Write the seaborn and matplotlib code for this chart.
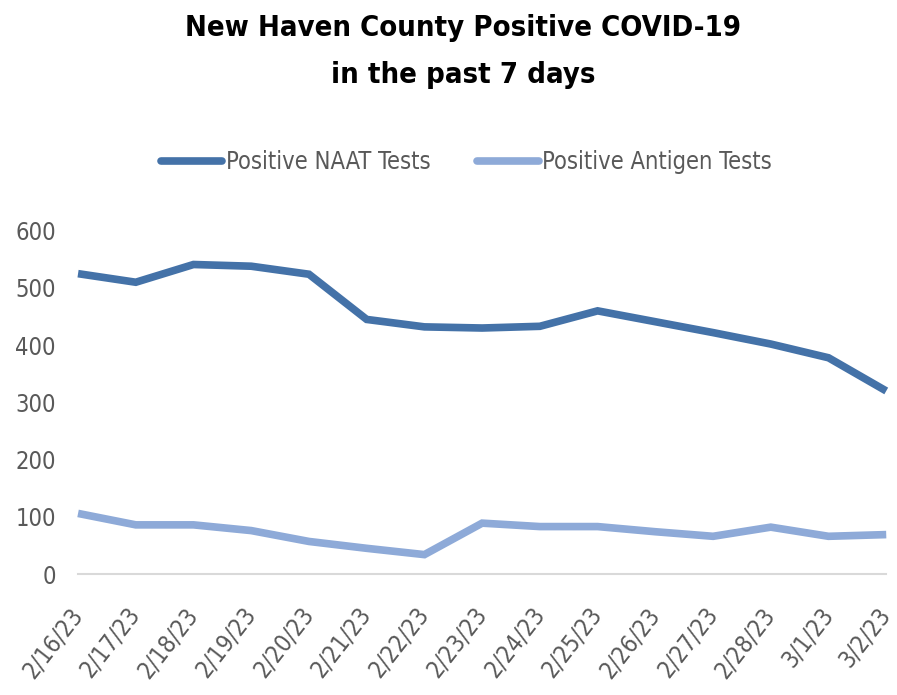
import matplotlib
matplotlib.use("Agg")
import matplotlib.pyplot as plt
import seaborn as sns
import pandas as pd
from matplotlib.lines import Line2D

dates = ["2/16/23", "2/17/23", "2/18/23", "2/19/23", "2/20/23", "2/21/23", "2/22/23",
         "2/23/23", "2/24/23", "2/25/23", "2/26/23", "2/27/23", "2/28/23", "3/1/23", "3/2/23"]
naat = [525, 510, 541, 538, 524, 445, 432, 430, 433, 460, 441, 422, 402, 378, 320]
antigen = [106, 86, 86, 76, 57, 45, 34, 89, 83, 83, 74, 66, 82, 66, 69]
series_names = ["Positive NAAT Tests", "Positive Antigen Tests"]
yticks = [0, 100, 200, 300, 400, 500, 600]

sns.set_theme(style="white")
plt.rcParams["font.family"] = ["DejaVu Sans"]
plt.rcParams["font.stretch"] = "condensed"

df = pd.DataFrame({
    "date": dates * 2,
    "value": naat + antigen,
    "series": [series_names[0]] * len(dates) + [series_names[1]] * len(dates),
})
df["idx"] = list(range(len(dates))) * 2

fig = plt.figure(figsize=(8.97, 6.95), dpi=100)
ax = fig.add_axes([0.087, 0.174, 0.901, 0.494])

palette = {series_names[0]: "#4472a8", series_names[1]: "#8eaad8"}
sns.lineplot(data=df, x="idx", y="value", hue="series", palette=palette,
             linewidth=5.5, ax=ax, legend=False, sort=False)
for ln in ax.lines:
    ln.set_solid_capstyle("butt")
    ln.set_solid_joinstyle("miter")
    ln.set_clip_on(False)

ax.set_xlim(0, len(dates) - 1)
ax.set_ylim(0, 600)
ax.set_yticks(yticks)
ax.set_yticklabels([str(v) for v in yticks], fontsize=17, color="#595959")
ax.set_xticks(range(len(dates)))
ax.set_xticklabels(dates, rotation=52, ha="right", va="center", rotation_mode="anchor",
                   fontsize=17, color="#595959")
ax.tick_params(axis="both", length=0)
ax.tick_params(axis="y", pad=16)
ax.tick_params(axis="x", pad=26)
ax.set_xlabel("")
ax.set_ylabel("")
for s in ["top", "right", "left"]:
    ax.spines[s].set_visible(False)
ax.spines["bottom"].set_color("#d9d9d9")
ax.spines["bottom"].set_linewidth(1.5)

fig.text(0.516, 0.960, "New Haven County Positive COVID-19", ha="center", va="center",
         fontsize=21, fontweight="bold", color="#000000")
fig.text(0.516, 0.892, "in the past 7 days", ha="center", va="center",
         fontsize=21, fontweight="bold", color="#000000")

handles = [Line2D([0], [0], color=palette[n], linewidth=5.5, solid_capstyle="round") for n in series_names]
leg = fig.legend(handles, series_names, loc="center", bbox_to_anchor=(0.52, 0.767),
                 ncol=2, frameon=False, fontsize=17, handlelength=2.6, handletextpad=0.15,
                 columnspacing=2.0)
for t in leg.get_texts():
    t.set_color("#595959")

fig.savefig("out.png", dpi=100)
